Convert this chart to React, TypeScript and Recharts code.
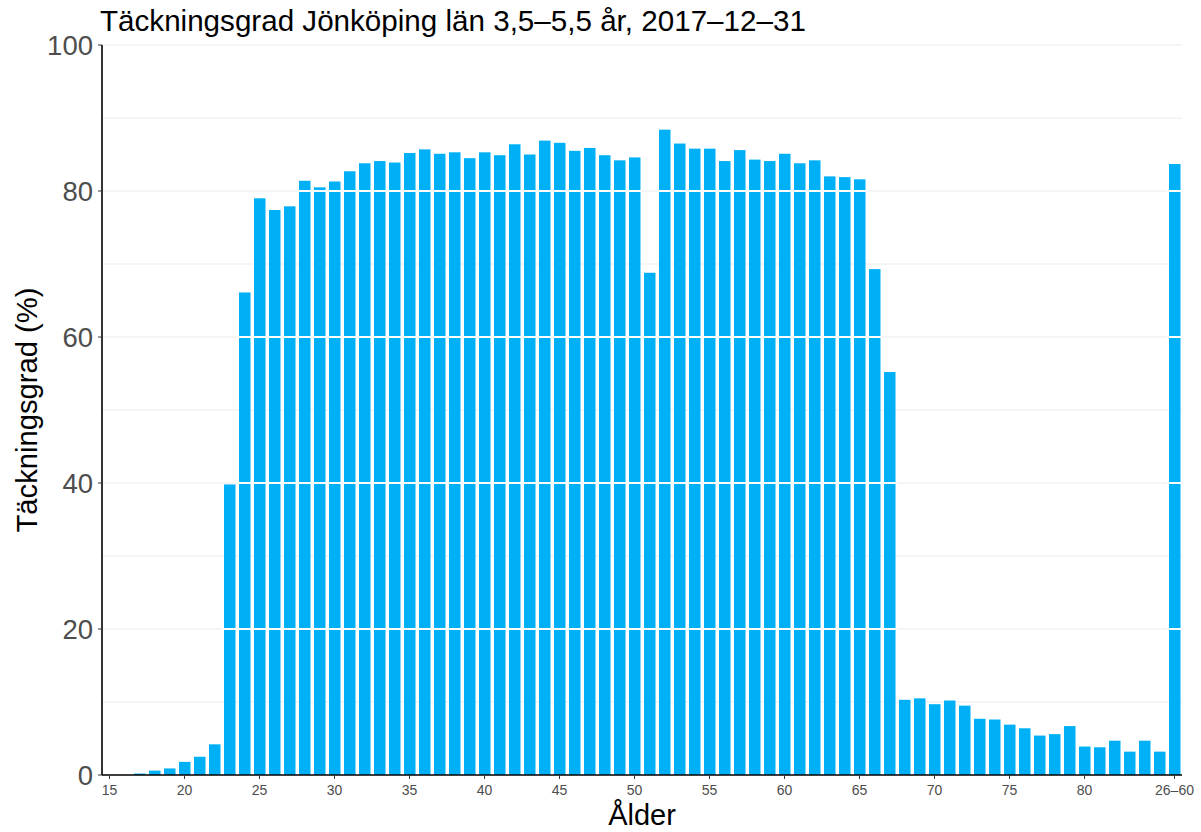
import React from 'react';
import { BarChart, Bar, XAxis, YAxis, CartesianGrid } from 'recharts';

const ages = [
  '15', '16', '17', '18', '19', '20', '21', '22', '23', '24',
  '25', '26', '27', '28', '29', '30', '31', '32', '33', '34',
  '35', '36', '37', '38', '39', '40', '41', '42', '43', '44',
  '45', '46', '47', '48', '49', '50', '51', '52', '53', '54',
  '55', '56', '57', '58', '59', '60', '61', '62', '63', '64',
  '65', '66', '67', '68', '69', '70', '71', '72', '73', '74',
  '75', '76', '77', '78', '79', '80', '81', '82', '83', '84',
  '85', '26–60',
];

const rates = [
  0, 0, 0.2, 0.6, 0.9, 1.8, 2.5, 4.2, 39.8, 66.1,
  79.0, 77.4, 77.9, 81.4, 80.5, 81.3, 82.7, 83.8, 84.1, 83.9,
  85.2, 85.7, 85.1, 85.3, 84.5, 85.3, 84.9, 86.4, 85.0, 86.9,
  86.6, 85.5, 85.9, 84.9, 84.2, 84.6, 68.8, 88.4, 86.5, 85.8,
  85.8, 84.1, 85.6, 84.3, 84.1, 85.1, 83.8, 84.2, 82.0, 81.9,
  81.6, 69.3, 55.2, 10.3, 10.5, 9.7, 10.2, 9.5, 7.7, 7.6,
  6.9, 6.4, 5.4, 5.6, 6.7, 3.9, 3.8, 4.7, 3.2, 4.7,
  3.2, 83.7,
];

const xTicks = ['15', '20', '25', '30', '35', '40', '45', '50', '55', '60', '65', '70', '75', '80', '26–60'];
const yTicks = [0, 20, 40, 60, 80, 100];
const Y_MAX = 100;
const gridValues = [0, 10, 20, 30, 40, 50, 60, 70, 80, 90, 100];
// major lines that show up white on top of the bars
const overlayValues = [20, 40, 60, 80];

const data = ages.map((age, i) => ({ age, rate: rates[i] }));

const BAR_COLOR = '#00B0F6';
const FONT = "'Liberation Sans', Arial, sans-serif";

const GridBar = (props: any) => {
  const { x, y, width, height, payload } = props;
  const v = payload.rate;
  if (!v || height <= 0) return null;
  return (
    <g>
      <rect x={x} y={y} width={width} height={height} fill={BAR_COLOR} />
      {overlayValues.filter((lv) => lv < v).map((lv) => {
        const yy = y + height - (height * lv) / v;
        return <line key={lv} x1={x - 2} x2={x + width + 2} y1={yy} y2={yy} stroke="#fff" strokeWidth={2} />;
      })}
    </g>
  );
};

export default function App() {
  return (
    <div style={{ position: 'absolute', left: 0, top: 0, width: 1201, height: 832, background: '#fff' }}>
      <BarChart
        width={1201}
        height={832}
        data={data}
        margin={{ top: 45, right: 19, bottom: 27, left: 22 }}
        barSize={11.5}
      >
        <CartesianGrid
          vertical={false}
          stroke="#ebebeb"
          strokeWidth={1}
          horizontalCoordinatesGenerator={({ offset }: any) =>
            gridValues.map((v) => offset.top + offset.height * (1 - v / Y_MAX))
          }
        />
        <XAxis
          dataKey="age"
          type="category"
          ticks={xTicks}
          interval={0}
          height={30}
          axisLine={{ stroke: '#000', strokeWidth: 1.6 }}
          tickLine={{ stroke: '#333' }}
          tickSize={4}
          tickMargin={6}
          tick={{ fill: '#4d4d4d', fontSize: 14, fontFamily: FONT }}
        />
        <YAxis
          domain={[0, Y_MAX]}
          ticks={yTicks}
          width={80}
          axisLine={{ stroke: '#000', strokeWidth: 1.6 }}
          tickLine={{ stroke: '#333' }}
          tickSize={4}
          tickMargin={5}
          tick={{ fill: '#4d4d4d', fontSize: 27.5, fontFamily: FONT }}
        />
        <Bar dataKey="rate" shape={<GridBar />} isAnimationActive={false} />
      </BarChart>
      <svg
        width={1201}
        height={832}
        style={{ position: 'absolute', left: 0, top: 0, pointerEvents: 'none' }}
      >
        <text x={100} y={31} fontSize={29.6} fontFamily={FONT} fill="#000">
          Täckningsgrad Jönköping län 3,5–5,5 år, 2017–12–31
        </text>
        <text
          x={0}
          y={0}
          transform="translate(37, 410) rotate(-90)"
          textAnchor="middle"
          fontSize={29.2}
          fontFamily={FONT}
          fill="#000"
        >
          Täckningsgrad (%)
        </text>
        <text x={642} y={825} textAnchor="middle" fontSize={29} fontFamily={FONT} fill="#000">
          Ålder
        </text>
      </svg>
    </div>
  );
}
